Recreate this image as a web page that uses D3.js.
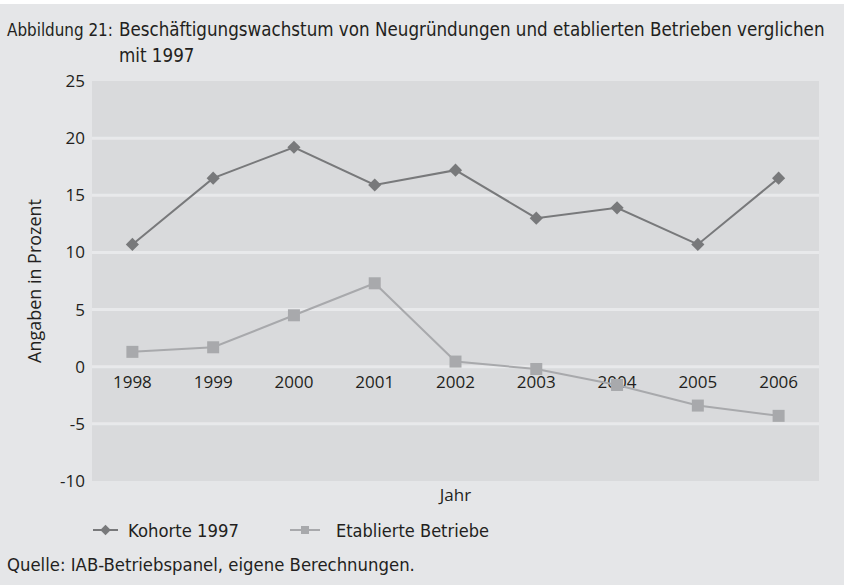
<!DOCTYPE html>
<html><head><meta charset="utf-8">
<script src="https://cdn.jsdelivr.net/npm/d3@7"></script>
<style>
html,body{margin:0;padding:0;background:#fff;}
svg{display:block;}
.cond{font-family:"Liberation Sans Narrow","DejaVu Sans Condensed","Roboto Condensed",sans-serif;}
.frut{font-family:"Open Sans","Noto Sans",sans-serif;}
</style></head>
<body>
<svg id="c" width="844" height="585"></svg>
<script>
const years = ["1998","1999","2000","2001","2002","2003","2004","2005","2006"];
const kohorte1997 = [10.7,16.5,19.2,15.9,17.2,13.0,13.9,10.7,16.5];
const etablierte = [1.3,1.7,4.5,7.3,0.45,-0.2,-1.6,-3.4,-4.3];
const yTicks = [25,20,15,10,5,0,-5,-10];
const seriesNames = ["Kohorte 1997","Etablierte Betriebe"];

const W=844,H=585;
const svg=d3.select("#c");
svg.append("rect").attr("x",0).attr("y",4).attr("width",W).attr("height",H-4).attr("fill","#e5e6e8");

const L=92,R=819,T=81,B=481;
const x=d3.scaleBand().domain(years).range([L,R]);
const y=d3.scaleLinear().domain([-10,25]).range([B,T]);

function fit(sel,target,maxSize){
  sel.style("font-size","20px");
  const w=sel.node().getComputedTextLength();
  const s=Math.min(maxSize,20*target/w);
  sel.style("font-size",s.toFixed(2)+"px");
  return sel;
}

svg.append("rect").attr("x",L).attr("y",T).attr("width",R-L).attr("height",B-T).attr("fill","#d9dadc");

svg.append("g").selectAll("line").data(yTicks.filter(d=>d!==25&&d!==-10)).join("line")
  .attr("x1",L).attr("x2",R).attr("y1",d=>y(d)).attr("y2",d=>y(d))
  .attr("stroke","#e8e9eb").attr("stroke-width",3);

const ya=svg.append("g").attr("transform",`translate(${L},0)`)
  .call(d3.axisLeft(y).tickValues(yTicks).tickSize(0).tickPadding(7).tickFormat(d=>d<0?"-"+Math.abs(d):d));
ya.select(".domain").remove();
ya.selectAll("text").attr("class","frut").style("font-size","17px").attr("fill","#231f20");

const xa=svg.append("g").attr("transform",`translate(0,${y(0)})`)
  .call(d3.axisBottom(x).tickSize(0).tickPadding(9));
xa.select(".domain").remove();
xa.selectAll("text").attr("class","frut").style("font-size","17px").attr("fill","#231f20");

fit(svg.append("text").attr("class","frut").attr("transform",`translate(41,${(T+B)/2}) rotate(-90)`)
  .attr("text-anchor","middle").attr("fill","#231f20").text("Angaben in Prozent"),164,18);
svg.append("text").attr("class","frut").attr("x",(L+R)/2).attr("y",501)
  .attr("text-anchor","middle").style("font-size","17px").attr("fill","#231f20").text("Jahr");

const cx=(d,i)=>x(years[i])+x.bandwidth()/2;
const line=d3.line().x((d,i)=>cx(d,i)).y(d=>y(d));

const colK="#78797b", colE="#a8a9ac";
svg.append("path").datum(etablierte).attr("d",line).attr("fill","none").attr("stroke",colE).attr("stroke-width",2);
svg.append("g").selectAll("rect").data(etablierte).join("rect")
  .attr("x",(d,i)=>cx(d,i)-6).attr("y",d=>y(d)-6).attr("width",12).attr("height",12).attr("fill",colE);

svg.append("path").datum(kohorte1997).attr("d",line).attr("fill","none").attr("stroke",colK).attr("stroke-width",2);
const diamond=d3.symbol().type(d3.symbolDiamond2).size(110);
svg.append("g").selectAll("path").data(kohorte1997).join("path")
  .attr("transform",(d,i)=>`translate(${cx(d,i)},${y(d)})`)
  .attr("d",diamond).attr("fill",colK);

const lg=svg.append("g");
lg.append("line").attr("x1",93).attr("x2",118).attr("y1",530).attr("y2",530).attr("stroke",colK).attr("stroke-width",2);
lg.append("path").attr("transform","translate(105.5,530)").attr("d",d3.symbol().type(d3.symbolDiamond2).size(70)).attr("fill",colK);
fit(lg.append("text").attr("class","cond").attr("x",128).attr("y",537).attr("fill","#231f20").text(seriesNames[0]),111,20);
lg.append("line").attr("x1",290).attr("x2",320).attr("y1",530).attr("y2",530).attr("stroke",colE).attr("stroke-width",2);
lg.append("rect").attr("x",301).attr("y",526).attr("width",8).attr("height",8).attr("fill",colE);
fit(lg.append("text").attr("class","cond").attr("x",336).attr("y",537).attr("fill","#231f20").text(seriesNames[1]),153,20);

const tt=svg.append("g").attr("class","cond").attr("fill","#231f20");
fit(tt.append("text").attr("x",7).attr("y",36).text("Abbildung 21:"),106,20);
const t2=tt.append("text").attr("x",119).attr("y",36)
  .text("Beschäftigungswachstum von Neugründungen und etablierten Betrieben verglichen");
fit(t2,706,20);
const ts=t2.style("font-size");
tt.append("text").attr("x",119).attr("y",62).style("font-size",ts).text("mit 1997");

fit(svg.append("text").attr("class","cond").attr("x",7).attr("y",571).attr("fill","#231f20")
  .text("Quelle: IAB-Betriebspanel, eigene Berechnungen."),408,20);
</script>
</body></html>
